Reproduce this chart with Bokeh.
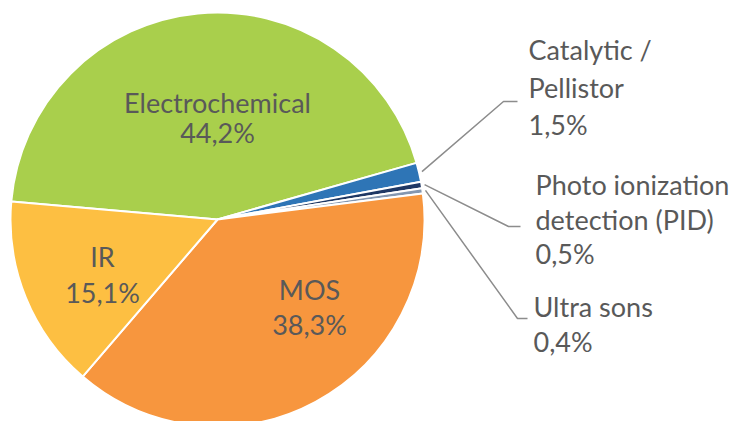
import math
from bokeh.plotting import figure
from bokeh.models import ColumnDataSource, Range1d
from bokeh.core.properties import value
from bokeh.embed import file_html
from bokeh.resources import INLINE

# ---- data ----
categories = ["Electrochemical", "Catalytic /\nPellistor", "Photo ionization\ndetection (PID)",
              "Ultra sons", "MOS", "IR"]
shares = [44.2, 1.5, 0.5, 0.4, 38.3, 15.1]

# ---- styles ----
colors = ["#A9CF4C", "#2E75B6", "#1F3864", "#8497B0", "#F7963E", "#FDBF42"]
TEXT_COLOR = "#595959"
LINE_COLOR = "#8C8C8C"
FONT = "Lato"
FS = "27px"

W, H = 736, 421


def dx(sx):
    return sx


def dy(sy):
    return H - sy


SCX, SCY, R = 217, 219, 207
CX, CY = dx(SCX), dy(SCY)
START_BEARING = 275.0  # clockwise from 12 o'clock

p = figure(width=W, height=H, output_backend="svg", toolbar_location=None,
           x_range=Range1d(0, W), y_range=Range1d(0, H), min_border=0)
p.axis.visible = False
p.grid.visible = False
p.outline_line_color = None
p.background_fill_color = "white"

total = sum(shares)
starts, ends, mids = [], [], []
b = START_BEARING
for v in shares:
    span = v / total * 360.0
    starts.append(math.radians(90 - b))
    ends.append(math.radians(90 - (b + span)))
    mids.append(b + span / 2)
    b += span

src = ColumnDataSource(dict(start=starts, end=ends, color=colors))
p.wedge(x=CX, y=CY, radius=R, start_angle="start", end_angle="end", direction="clock",
        fill_color="color", line_color="white", line_width=2, source=src)


def pct(v):
    return f"{v:.1f}".replace(".", ",") + "%"


# label layout in screen px: (anchor x, first line y, line spacing)
inside = {
    0: (217, 102, 30),
    4: (309, 289, 35),
    5: (102, 256, 36),
}
outside = {
    1: (528, 49, 37.5, [(503, 101), (517, 101)]),
    2: (535, 184, 34.5, [(508, 226), (520, 226)]),
    3: (533, 306, 35, [(517, 318), (527, 318)]),
}

tx, ty, tt, ta = [], [], [], []
for i, (name, v) in enumerate(zip(categories, shares)):
    lines = name.split("\n") + [pct(v)]
    if i in inside:
        x0, y0, sp = inside[i]
        align = "center"
    else:
        x0, y0, sp, elbow = outside[i]
        align = "left"
        bb = math.radians(mids[i])
        sx0 = SCX + (R + 3) * math.sin(bb)
        sy0 = SCY - (R + 3) * math.cos(bb)
        xs = [dx(sx0)] + [dx(e[0]) for e in elbow]
        ys = [dy(sy0)] + [dy(e[1]) for e in elbow]
        p.line(xs, ys, line_color=LINE_COLOR, line_width=1.5)
    for k, t in enumerate(lines):
        tx.append(dx(x0))
        ty.append(dy(y0 + k * sp))
        tt.append(t)
        ta.append(align)

tsrc = ColumnDataSource(dict(x=tx, y=ty, text=tt, align=ta))
p.text(x="x", y="y", text="text", text_align="align", text_baseline="alphabetic",
       text_font=value(FONT), text_font_size=FS, text_color=TEXT_COLOR, source=tsrc)

open("out.html", "w").write(file_html(p, INLINE))
